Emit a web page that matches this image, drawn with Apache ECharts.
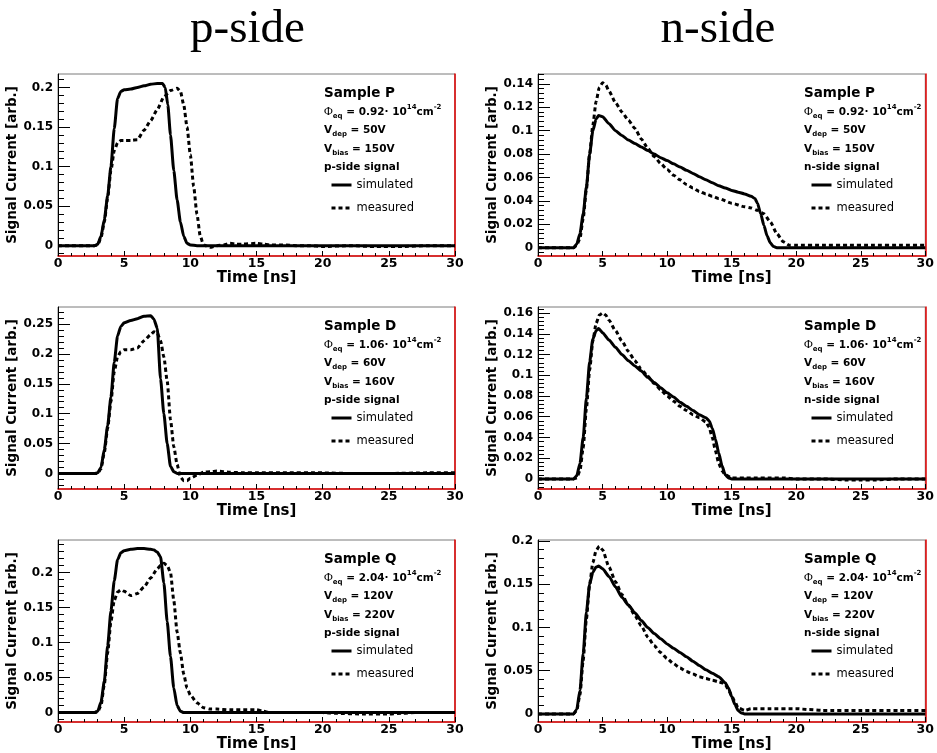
<!DOCTYPE html>
<html>
<head>
<meta charset="utf-8">
<script src="https://cdn.jsdelivr.net/npm/echarts@6/dist/echarts.min.js"></script>
<style>
  html, body { margin: 0; padding: 0; background: #fff; }
  #chart { width: 937px; height: 753px; }
</style>
</head>
<body>
<div id="chart"></div>
<script>
// ---------------- Signal current pulses: time [ns] and current [arb.] ----------------

// Sample P, p-side
const tPpSim  = [0, 1, 2, 2.75, 3.0, 3.25, 3.5, 3.75, 4.0, 4.25, 4.5, 4.75, 5.0, 5.5, 6.0, 6.5, 7.0, 7.5, 7.9, 8.1, 8.3, 8.5, 8.75, 9.0, 9.25, 9.5, 9.75, 10.0, 10.5, 12, 15, 20, 25, 30];
const iPpSim  = [0, 0, 0, 0, 0.002, 0.012, 0.033, 0.063, 0.1, 0.148, 0.186, 0.195, 0.197, 0.198, 0.2, 0.202, 0.204, 0.205, 0.205, 0.2, 0.178, 0.14, 0.095, 0.058, 0.03, 0.012, 0.003, 0.001, 0, 0, 0, 0, 0, 0];
const tPpMeas = [0, 1, 2, 2.75, 3.0, 3.25, 3.5, 3.75, 4.0, 4.25, 4.5, 4.75, 5.0, 5.5, 6.0, 6.5, 7.0, 7.5, 8.0, 8.5, 9.0, 9.25, 9.5, 9.75, 10.0, 10.25, 10.5, 10.75, 11.0, 11.5, 12, 12.5, 13, 13.5, 14, 15, 15.5, 16, 17, 18, 19, 20, 22, 24, 26, 28, 30];
const iPpMeas = [0, 0, 0, 0, 0.001, 0.01, 0.03, 0.06, 0.095, 0.12, 0.13, 0.133, 0.133, 0.133, 0.134, 0.146, 0.158, 0.172, 0.188, 0.196, 0.199, 0.195, 0.178, 0.15, 0.115, 0.075, 0.04, 0.012, 0.001, -0.002, 0, 0.001, 0.003, 0.002, 0.002, 0.003, 0.002, 0.001, 0.001, 0, 0, -0.001, 0, -0.001, -0.001, 0, 0];

// Sample P, n-side
const tPnSim  = [0, 1, 2, 2.75, 3.0, 3.25, 3.5, 3.75, 4.0, 4.25, 4.5, 4.7, 5.0, 5.5, 6.0, 6.5, 7.0, 7.5, 8.0, 8.5, 9.0, 9.5, 10.0, 10.5, 11.0, 11.5, 12.0, 12.5, 13.0, 13.5, 14.0, 14.5, 15.0, 15.5, 16.0, 16.5, 16.8, 17.0, 17.25, 17.5, 17.75, 18.0, 18.25, 18.5, 20, 25, 30];
const iPnSim  = [0, 0, 0, 0, 0.003, 0.012, 0.029, 0.052, 0.08, 0.1, 0.11, 0.113, 0.112, 0.106, 0.1, 0.096, 0.092, 0.089, 0.086, 0.083, 0.08, 0.077, 0.0745, 0.0717, 0.069, 0.0662, 0.0635, 0.0607, 0.058, 0.0555, 0.053, 0.051, 0.049, 0.0475, 0.046, 0.044, 0.042, 0.038, 0.029, 0.019, 0.01, 0.004, 0.001, 0, 0, 0, 0];
const tPnMeas = [0, 1, 2, 2.75, 3.0, 3.25, 3.5, 3.75, 4.0, 4.25, 4.5, 4.75, 5.0, 5.25, 5.5, 6, 6.5, 7, 7.5, 8, 8.5, 9, 9.5, 10, 10.5, 11, 11.5, 12, 12.5, 13, 13.5, 14, 15, 16, 16.5, 17, 17.5, 18, 18.5, 19, 19.5, 20, 22, 24, 26, 28, 30];
const iPnMeas = [0, 0, 0, 0, 0.002, 0.008, 0.025, 0.05, 0.08, 0.105, 0.125, 0.137, 0.141, 0.139, 0.134, 0.124, 0.116, 0.109, 0.102, 0.093, 0.085, 0.078, 0.072, 0.067, 0.062, 0.058, 0.054, 0.051, 0.048, 0.046, 0.044, 0.042, 0.038, 0.035, 0.034, 0.032, 0.029, 0.022, 0.012, 0.005, 0.002, 0.002, 0.002, 0.002, 0.002, 0.002, 0.002];

// Sample D, p-side
const tDpSim  = [0, 1, 2, 2.75, 3.0, 3.25, 3.5, 3.75, 4.0, 4.25, 4.5, 4.75, 5.0, 5.5, 6.0, 6.5, 7.0, 7.25, 7.5, 7.75, 8.0, 8.25, 8.5, 8.75, 9.0, 10, 15, 20, 25, 30];
const iDpSim  = [0, 0, 0, 0, 0.001, 0.01, 0.04, 0.08, 0.128, 0.186, 0.23, 0.246, 0.252, 0.256, 0.259, 0.263, 0.264, 0.258, 0.243, 0.158, 0.1, 0.05, 0.012, 0.003, 0, 0, 0, 0, 0, 0];
const tDpMeas = [0, 1, 2, 2.75, 3.0, 3.25, 3.5, 3.75, 4.0, 4.25, 4.5, 4.75, 5.0, 5.5, 6.0, 6.5, 7.0, 7.25, 7.5, 7.75, 8.0, 8.25, 8.5, 8.75, 9.0, 9.25, 9.5, 9.75, 10.0, 10.5, 11, 11.5, 12, 13, 14, 15, 17, 20, 22, 25, 28, 30];
const iDpMeas = [0, 0, 0, 0, 0, 0.008, 0.035, 0.075, 0.12, 0.17, 0.195, 0.204, 0.207, 0.207, 0.21, 0.222, 0.232, 0.237, 0.235, 0.222, 0.195, 0.155, 0.09, 0.045, 0.015, -0.006, -0.012, -0.012, -0.008, -0.003, 0.002, 0.003, 0.004, 0.002, 0.001, 0.001, 0.001, 0.001, 0, 0, 0.001, 0.001];

// Sample D, n-side
const tDnSim  = [0, 1, 2, 2.75, 3.0, 3.25, 3.5, 3.75, 4.0, 4.25, 4.5, 4.7, 5.0, 5.5, 6, 6.5, 7, 7.5, 8, 8.5, 9, 9.5, 10, 10.5, 11, 11.5, 12, 12.5, 13, 13.25, 13.5, 13.75, 14, 14.25, 14.5, 14.75, 15, 20, 25, 30];
const iDnSim  = [0, 0, 0, 0, 0.003, 0.015, 0.04, 0.078, 0.113, 0.135, 0.143, 0.145, 0.141, 0.134, 0.127, 0.12, 0.114, 0.109, 0.104, 0.098, 0.093, 0.088, 0.083, 0.079, 0.074, 0.07, 0.066, 0.062, 0.059, 0.056, 0.049, 0.038, 0.025, 0.013, 0.004, 0.001, 0, 0, 0, 0];
const tDnMeas = [0, 1, 2, 2.75, 3.0, 3.25, 3.5, 3.75, 4.0, 4.25, 4.5, 4.75, 5.0, 5.25, 5.5, 6, 6.5, 7, 7.5, 8, 8.5, 9, 9.5, 10, 10.5, 11, 11.5, 12, 12.5, 13, 13.25, 13.5, 13.75, 14, 14.25, 14.5, 15, 16, 17, 18, 19, 20, 22, 24, 25, 26, 28, 30];
const iDnMeas = [0, 0, 0, 0, 0.001, 0.008, 0.03, 0.068, 0.105, 0.133, 0.15, 0.158, 0.16, 0.158, 0.153, 0.143, 0.133, 0.123, 0.114, 0.106, 0.099, 0.092, 0.086, 0.08, 0.075, 0.07, 0.066, 0.062, 0.059, 0.055, 0.05, 0.04, 0.027, 0.015, 0.008, 0.004, 0.001, 0.001, 0.001, 0.001, 0.001, 0, 0, -0.001, -0.001, -0.001, 0, 0];

// Sample Q, p-side
const tQpSim  = [0, 1, 2, 2.75, 3.0, 3.25, 3.5, 3.75, 4.0, 4.25, 4.5, 4.75, 5.0, 5.5, 6, 6.5, 7, 7.25, 7.5, 7.75, 8.0, 8.25, 8.5, 8.75, 9.0, 9.25, 9.5, 10, 15, 20, 25, 30];
const iQpSim  = [0, 0, 0, 0, 0.002, 0.015, 0.045, 0.095, 0.145, 0.188, 0.218, 0.228, 0.231, 0.233, 0.234, 0.234, 0.233, 0.232, 0.229, 0.222, 0.185, 0.13, 0.08, 0.035, 0.01, 0.002, 0, 0, 0, 0, 0, 0];
const tQpMeas = [0, 1, 2, 2.75, 3.0, 3.25, 3.5, 3.75, 4.0, 4.25, 4.5, 4.75, 5.0, 5.5, 6.0, 6.5, 7.0, 7.5, 7.75, 8.0, 8.25, 8.5, 8.75, 9.0, 9.25, 9.5, 9.75, 10.0, 10.5, 11, 11.5, 12, 13, 14, 15, 15.5, 16, 18, 20, 21, 23, 25, 26, 27, 30];
const iQpMeas = [0, 0, 0, 0, 0.001, 0.01, 0.04, 0.085, 0.13, 0.16, 0.172, 0.175, 0.173, 0.167, 0.17, 0.179, 0.192, 0.205, 0.21, 0.213, 0.21, 0.2, 0.16, 0.115, 0.085, 0.055, 0.035, 0.025, 0.014, 0.007, 0.005, 0.005, 0.004, 0.004, 0.004, 0.002, 0, 0, 0, -0.001, -0.002, -0.002, -0.001, 0, 0];

// Sample Q, n-side
const tQnSim  = [0, 1, 2, 2.75, 3.0, 3.25, 3.5, 3.75, 4.0, 4.25, 4.5, 4.7, 5.0, 5.5, 6, 6.5, 7, 7.5, 8, 8.5, 9, 9.5, 10, 10.5, 11, 11.5, 12, 12.5, 13, 13.5, 14, 14.5, 14.75, 15, 15.25, 15.5, 15.75, 16, 20, 25, 30];
const iQnSim  = [0, 0, 0, 0, 0.005, 0.027, 0.07, 0.118, 0.15, 0.164, 0.17, 0.171, 0.168, 0.159, 0.147, 0.135, 0.126, 0.117, 0.108, 0.1, 0.093, 0.087, 0.081, 0.076, 0.071, 0.066, 0.061, 0.056, 0.051, 0.047, 0.043, 0.036, 0.03, 0.02, 0.011, 0.004, 0.001, 0, 0, 0, 0];
const tQnMeas = [0, 1, 2, 2.75, 3.0, 3.25, 3.5, 3.75, 4.0, 4.25, 4.5, 4.75, 5.0, 5.5, 6, 6.5, 7, 7.5, 8, 8.5, 9, 9.5, 10, 10.5, 11, 11.5, 12, 12.5, 13, 13.5, 14, 14.25, 14.5, 14.75, 15, 15.25, 15.5, 16, 16.5, 18, 20, 21, 22, 25, 28, 30];
const iQnMeas = [0, 0, 0, 0, 0.004, 0.022, 0.062, 0.11, 0.15, 0.175, 0.189, 0.194, 0.19, 0.17, 0.153, 0.138, 0.126, 0.114, 0.102, 0.089, 0.079, 0.071, 0.064, 0.058, 0.053, 0.049, 0.046, 0.043, 0.041, 0.039, 0.037, 0.036, 0.034, 0.028, 0.021, 0.014, 0.007, 0.004, 0.006, 0.006, 0.006, 0.005, 0.004, 0.004, 0.004, 0.004];

// ---------------- Labelled y-axis ticks per panel ----------------
const yTicksPp = [0, 0.05, 0.1, 0.15, 0.2];
const yTicksPn = [0, 0.02, 0.04, 0.06, 0.08, 0.1, 0.12, 0.14];
const yTicksDp = [0, 0.05, 0.1, 0.15, 0.2, 0.25];
const yTicksDn = [0, 0.02, 0.04, 0.06, 0.08, 0.1, 0.12, 0.14, 0.16];
const yTicksQp = [0, 0.05, 0.1, 0.15, 0.2];
const yTicksQn = [0, 0.05, 0.1, 0.15, 0.2];

// ---------------- Sample descriptions ----------------
const sampleNames = ['P', 'P', 'D', 'D', 'Q', 'Q'];
const fluences    = ['0.92', '0.92', '1.06', '1.06', '2.04', '2.04'];
const depletionV  = ['50V', '50V', '60V', '60V', '120V', '120V'];
const biasV       = ['150V', '150V', '160V', '160V', '220V', '220V'];
const sideLabels  = ['p-side signal', 'n-side signal', 'p-side signal', 'n-side signal', 'p-side signal', 'n-side signal'];
const columnTitles = ['p-side', 'n-side'];

// ---------------- Panel setup ----------------
const panels = [
  { sim: [tPpSim, iPpSim], meas: [tPpMeas, iPpMeas], ticks: yTicksPp, min: -0.013,  max: 0.217,  minor: 0.01 },
  { sim: [tPnSim, iPnSim], meas: [tPnMeas, iPnMeas], ticks: yTicksPn, min: -0.0071, max: 0.1485, minor: 0.004 },
  { sim: [tDpSim, iDpSim], meas: [tDpMeas, iDpMeas], ticks: yTicksDp, min: -0.026,  max: 0.2785, minor: 0.01 },
  { sim: [tDnSim, iDnSim], meas: [tDnMeas, iDnMeas], ticks: yTicksDn, min: -0.0097, max: 0.1658, minor: 0.004 },
  { sim: [tQpSim, iQpSim], meas: [tQpMeas, iQpMeas], ticks: yTicksQp, min: -0.0134, max: 0.2463, minor: 0.01 },
  { sim: [tQnSim, iQnSim], meas: [tQnMeas, iQnMeas], ticks: yTicksQn, min: -0.0094, max: 0.2012, minor: 0.01 }
];

const colLeft = [58, 538];
const titleCenter = [247.5, 718];
const rowTop = [74, 307, 540];
const PW = 397, PH = 182;
const RED = '#e00000';
const SANS = 'DejaVu Sans';

const pairs = (t, v) => t.map((x, k) => [x, v[k]]);
function minorValues(min, max, step) {
  const out = [];
  for (let k = Math.ceil(min / step); k * step <= max + 1e-12; k++) out.push(+(k * step).toFixed(6));
  return out;
}

const option = {
  animation: false,
  backgroundColor: '#fff',
  grid: [], xAxis: [], yAxis: [], series: [], legend: [], graphic: []
};

// column headings
columnTitles.forEach((txt, c) => {
  option.graphic.push({
    type: 'text', x: titleCenter[c], y: 30,
    style: { text: txt, fill: '#000', font: '47px "Liberation Serif"', align: 'center', verticalAlign: 'middle', textAlign: 'center', textVerticalAlign: 'middle' }
  });
});

panels.forEach((p, i) => {
  const gl = colLeft[i % 2];
  const gt = rowTop[Math.floor(i / 2)];

  option.grid.push({ left: gl, top: gt, width: PW, height: PH, show: true, borderColor: '#7a7a7a', borderWidth: 1, backgroundColor: 'transparent' });

  option.xAxis.push({
    gridIndex: i, type: 'value', min: 0, max: 30, interval: 5,
    axisLine: { show: true, onZero: false, lineStyle: { color: RED, width: 1.5 } },
    axisTick: { show: true, inside: true, length: 5, lineStyle: { color: '#000', width: 1 } },
    minorTick: { show: true, splitNumber: 5, length: 3, lineStyle: { color: '#000', width: 1 } },
    splitLine: { show: false },
    axisLabel: { color: '#000', fontFamily: SANS, fontWeight: 'bold', fontSize: 12.5, margin: 1 },
    name: 'Time [ns]', nameLocation: 'middle', nameGap: 13,
    nameTextStyle: { color: '#000', fontFamily: SANS, fontWeight: 'bold', fontSize: 15 }
  });

  const yMain = option.yAxis.length;
  option.yAxis.push({
    gridIndex: i, type: 'value', position: 'left', min: p.min, max: p.max,
    axisLine: { show: true, onZero: false, lineStyle: { color: '#000', width: 1 } },
    axisTick: { show: true, inside: true, length: 12, customValues: p.ticks, lineStyle: { color: '#000', width: 1 } },
    axisLabel: { customValues: p.ticks, color: '#000', fontFamily: SANS, fontWeight: 'bold', fontSize: 12, margin: 5 },
    splitLine: { show: false },
    name: 'Signal Current [arb.]', nameLocation: 'middle', nameGap: 33,
    nameTextStyle: { color: '#000', fontFamily: SANS, fontWeight: 'bold', fontSize: 13.5 }
  });
  option.yAxis.push({
    gridIndex: i, type: 'value', position: 'left', min: p.min, max: p.max,
    axisLine: { show: false },
    axisTick: { show: true, inside: true, length: 6, customValues: minorValues(p.min, p.max, p.minor), lineStyle: { color: '#000', width: 1 } },
    axisLabel: { show: false },
    splitLine: { show: false }
  });
  option.yAxis.push({
    gridIndex: i, type: 'value', position: 'right', min: p.min, max: p.max,
    axisLine: { show: true, onZero: false, lineStyle: { color: RED, width: 1.5 } },
    axisTick: { show: false }, axisLabel: { show: false }, splitLine: { show: false }
  });

  const common = {
    type: 'line', xAxisIndex: i, yAxisIndex: yMain, symbol: 'none', showSymbol: false,
    smooth: 0.2, smoothMonotone: 'x', clip: true, z: 3,
    itemStyle: { color: '#000' }
  };
  option.series.push(Object.assign({}, common, {
    name: 'simulated', data: pairs(p.sim[0], p.sim[1]),
    lineStyle: { color: '#000', width: 3, type: 'solid' }
  }));
  option.series.push(Object.assign({}, common, {
    name: 'measured', data: pairs(p.meas[0], p.meas[1]),
    lineStyle: { color: '#000', width: 3, type: [4, 3] }
  }));

  option.legend.push({
    left: gl + 272, top: gt + 105, orient: 'vertical', padding: 0,
    itemWidth: 20, itemHeight: 14, itemGap: 11, selectedMode: false,
    data: ['simulated', 'measured'],
    itemStyle: { opacity: 0, borderWidth: 0 },
    lineStyle: { width: 3, color: '#000' },
    textStyle: { color: '#000', fontFamily: SANS, fontSize: 11.5 }
  });

  // sample description block
  const tx = gl + 266;
  const rich = {
    t: { fontFamily: SANS, fontWeight: 'bold', fontSize: 10.5, lineHeight: 16, fill: '#000', color: '#000', verticalAlign: 'middle' },
    sub: { fontFamily: SANS, fontWeight: 'bold', fontSize: 7, lineHeight: 8, fill: '#000', color: '#000', verticalAlign: 'bottom' },
    sup: { fontFamily: SANS, fontWeight: 'bold', fontSize: 7, lineHeight: 8, fill: '#000', color: '#000', verticalAlign: 'top' },
    phi: { fontFamily: 'Liberation Serif', fontSize: 12, lineHeight: 16, fill: '#000', color: '#000', verticalAlign: 'middle' }
  };
  const lines = [
    { dy: 19, text: 'Sample ' + sampleNames[i], font: 'bold 13.5px "DejaVu Sans"' },
    { dy: 38, text: '{phi|\u03A6}{sub|eq}{t| = ' + fluences[i] + '\u00B7 10}{sup|14}{t|cm}{sup|-2}', rich: true },
    { dy: 56, text: '{t|V}{sub|dep}{t| = ' + depletionV[i] + '}', rich: true },
    { dy: 75, text: '{t|V}{sub|bias}{t| = ' + biasV[i] + '}', rich: true },
    { dy: 93, text: sideLabels[i], font: 'bold 10.5px "DejaVu Sans"' }
  ];
  lines.forEach(l => {
    const style = { text: l.text, fill: '#000', align: 'left', verticalAlign: 'middle', textAlign: 'left', textVerticalAlign: 'middle' };
    if (l.rich) { style.rich = rich; style.font = 'bold 10.5px "DejaVu Sans"'; } else { style.font = l.font; }
    option.graphic.push({ type: 'text', x: tx, y: gt + l.dy, style: style, z: 10 });
  });
});

const chart = echarts.init(document.getElementById('chart'), null, { renderer: 'canvas' });
chart.setOption(option);
</script>
</body>
</html>
